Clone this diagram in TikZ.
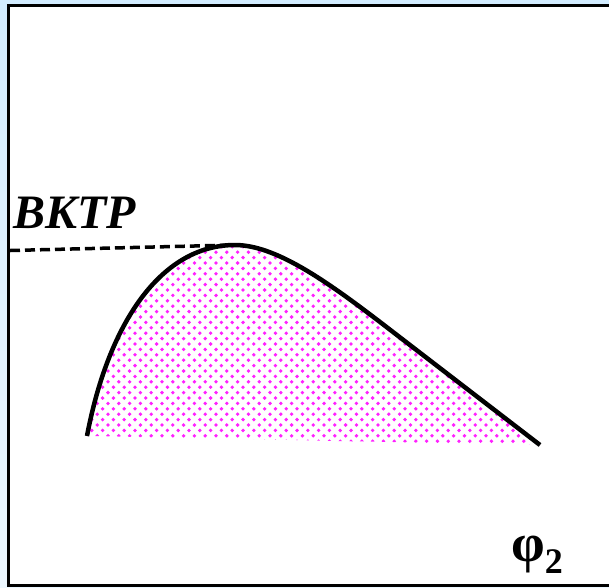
\documentclass[tikz,border=0pt]{standalone}
\usepackage{fontspec}
\setmainfont{Liberation Serif}
\usepackage{tikz}
\usetikzlibrary{
  patterns.meta,
  positioning,
  calc,
  backgrounds
}
\definecolor{pdSkyTop}{HTML}{D2ECFF}
\definecolor{pdSkyBot}{HTML}{ECF7FF}
\definecolor{pdDots}{HTML}{FF22FF}
\tikzdeclarepattern{
  name=pddots,
  type=uncolored,
  bottom left={(-3pt,-3pt)},
  top right={(13.8pt,13.8pt)},
  tile size={(10.8pt,10.8pt)},
  code={
    \fill (0,0) circle (1.9pt);
    \fill (5.4pt,5.4pt) circle (1.9pt);
  }
}
\tikzset{
  frame/.style={draw=black, line width=3pt, fill=white},
  region/.style={pattern={pddots}, pattern color=pdDots},
  curve/.style={line width=4.5pt, line join=round},
  tieline/.style={line width=3.5pt, dash pattern=on 10pt off 5pt},
  biglabel/.style={font=\fontsize{48}{52}\selectfont\bfseries\itshape, inner sep=0pt},
  axislabel/.style={font=\fontsize{54}{58}\selectfont\bfseries, inner sep=0pt}
}

\begin{document}
\begin{tikzpicture}[x=1pt, y=-1pt]
  \useasboundingbox (0,0) rectangle (609,587);
  \shade[top color=pdSkyTop, bottom color=pdSkyBot] (0,0) rectangle (609,587);
  \draw[frame] (8.5,5.5) rectangle (640,585.5);

  % points of the dome
  \coordinate (left) at (87,436);
  \coordinate (top) at (235,245);
  \coordinate (bend) at (380,322);
  \coordinate (right) at (540,445);
  \coordinate (wall) at (10,250.5);

  \fill[region] (left) .. controls (108,325) and (160,245) .. (top)
    .. controls (275,245) and (325,280) .. (bend) -- (right) -- cycle;
  \draw[curve] (left) .. controls (108,325) and (160,245) .. (top)
    .. controls (275,245) and (325,280) .. (bend) -- (right);
  \draw[tieline] (wall) -- (top);

  \node[biglabel, anchor=base west] (bktp) at (13,228) {BKTP};
  \node[axislabel, anchor=base west] (phi) at (511,561)
    {φ\raisebox{-12pt}{\fontsize{36}{38}\selectfont 2}};
\end{tikzpicture}
\end{document}
